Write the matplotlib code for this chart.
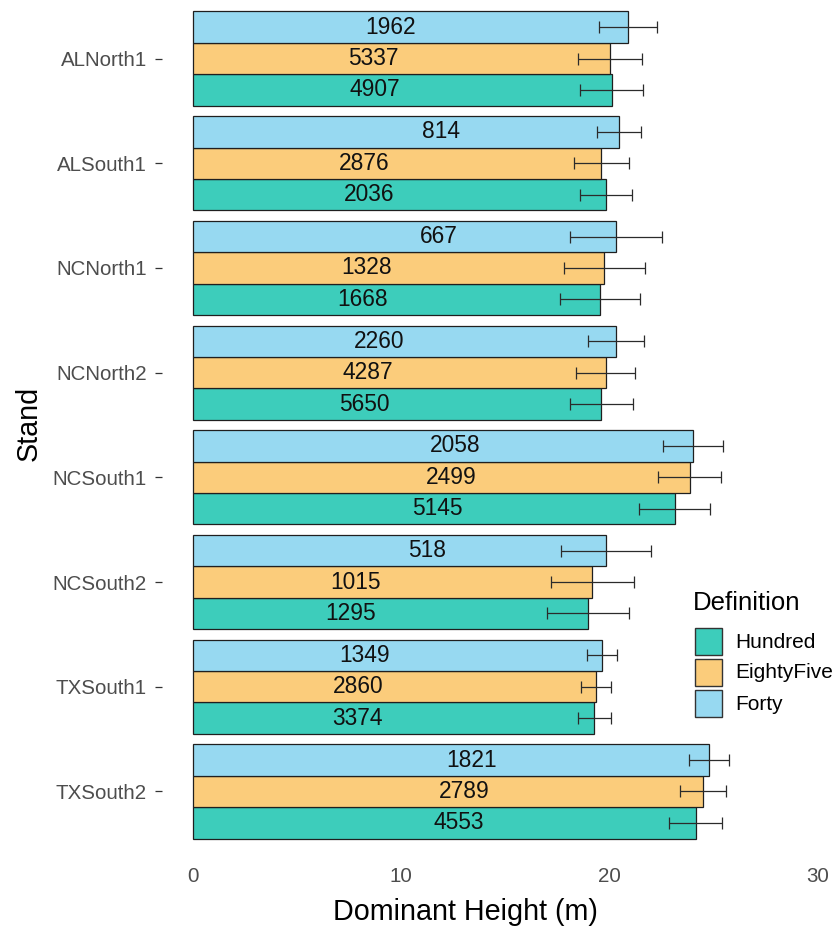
import matplotlib
matplotlib.use("Agg")
import matplotlib.pyplot as plt
from matplotlib.patches import Rectangle
import numpy as np

plt.rcParams['font.family'] = ['Liberation Sans', 'DejaVu Sans']

# ---- data -------------------------------------------------------------
stands = ["ALNorth1", "ALSouth1", "NCNorth1", "NCNorth2",
          "NCSouth1", "NCSouth2", "TXSouth1", "TXSouth2"]
definitions = ["Hundred", "EightyFive", "Forty"]

height_hundred = [20.10, 19.81, 19.54, 19.60, 23.12, 18.96, 19.27, 24.12]
sd_hundred = [1.52, 1.24, 1.91, 1.50, 1.71, 1.95, 0.80, 1.26]
n_hundred = [4907, 2036, 1668, 5650, 5145, 1295, 3374, 4553]

height_eightyfive = [20.02, 19.60, 19.75, 19.81, 23.84, 19.17, 19.32, 24.46]
sd_eightyfive = [1.55, 1.31, 1.94, 1.41, 1.50, 1.98, 0.72, 1.10]
n_eightyfive = [5337, 2876, 1328, 4287, 2499, 1015, 2860, 2789]

height_forty = [20.87, 20.45, 20.31, 20.31, 23.99, 19.81, 19.61, 24.75]
sd_forty = [1.40, 1.07, 2.20, 1.34, 1.45, 2.16, 0.72, 0.96]
n_forty = [1962, 814, 667, 2260, 2058, 518, 1349, 1821]

x_ticks = [0, 10, 20, 30]

# ---- styling ----------------------------------------------------------
fill = {"Hundred": "#3DCDBB", "EightyFive": "#FBCC7B", "Forty": "#97D9F1"}
series = {
    "Hundred": (height_hundred, sd_hundred, n_hundred),
    "EightyFive": (height_eightyfive, sd_eightyfive, n_eightyfive),
    "Forty": (height_forty, sd_forty, n_forty),
}
# offset of each definition within a stand group (axis is inverted)
group_offset = {"Hundred": 0.3, "EightyFive": 0.0, "Forty": -0.3}
bar_h = 0.3

W, H = 833, 927
fig = plt.figure(figsize=(W / 100, H / 100), dpi=100)


def fx(px):
    return px / W


def fy(py):
    return 1 - py / H


# panel (continuous axis expanded 5% on both sides, discrete by 0.6)
left_px, right_px = 161.75, 849.25
top_px, bottom_px = -4.3, 854.3
ax = fig.add_axes([fx(left_px), fy(bottom_px),
                   (right_px - left_px) / W, (bottom_px - top_px) / H])

ypos = np.arange(len(stands))
labels = []
for d in definitions:
    h, sd, n = series[d]
    y = ypos + group_offset[d]
    ax.barh(y, h, height=bar_h, color=fill[d], edgecolor="#1F1F1F",
            linewidth=0.9, zorder=2)
    ax.errorbar(h, y, xerr=sd, fmt="none", ecolor="#2B2B2B",
                elinewidth=0.9, capsize=4, capthick=0.9, zorder=3)
    for xi, yi, ni in zip(h, y, n):
        t = ax.annotate(str(ni), xy=(xi, yi), xytext=(0, 0),
                        textcoords="offset pixels", ha="center",
                        va="center", fontsize=16.4, color="#111111",
                        zorder=4)
        labels.append(t)

ax.set_xlim(-1.5, 31.5)
ax.set_ylim(len(stands) - 1 + 0.6, -0.6)
ax.set_xticks(x_ticks)
ax.set_xticklabels([str(v) for v in x_ticks])
ax.set_yticks(ypos)
ax.set_yticklabels(stands)
for s in ax.spines.values():
    s.set_visible(False)
ax.tick_params(axis="y", length=5, width=0.9, color="#333333",
               labelcolor="#4D4D4D", labelsize=14.8, pad=5.8)
ax.tick_params(axis="x", length=0, labelcolor="#4D4D4D",
               labelsize=14.8, pad=9)
ax.patch.set_alpha(0)

# count labels are right-anchored well inside each bar, proportional to width
fig.canvas.draw()
renderer = fig.canvas.get_renderer()
for t in labels:
    w = t.get_window_extent(renderer).width
    t.xyann = (-4.69 * w, 0)

# axis titles
fig.text(fx(465), fy(912), "Dominant Height (m)", ha="center", va="center",
         fontsize=20.7, color="black")
fig.text(fx(29), fy(423), "Stand", ha="center", va="center",
         rotation=90, fontsize=20.7, color="black")

# legend
fig.text(fx(693), fy(603), "Definition", ha="left", va="center",
         fontsize=18.5, color="black")
key_top = 628
for i, d in enumerate(definitions):
    y0 = key_top + 31 * i
    fig.patches.append(Rectangle((fx(695), fy(y0 + 27)), 27 / W, 27 / H,
                                 transform=fig.transFigure,
                                 facecolor=fill[d], edgecolor="#333333",
                                 linewidth=1.0))
    fig.text(fx(735), fy(y0 + 14), d, ha="left", va="center",
             fontsize=15, color="black")

fig.savefig("out.png", dpi=100)
